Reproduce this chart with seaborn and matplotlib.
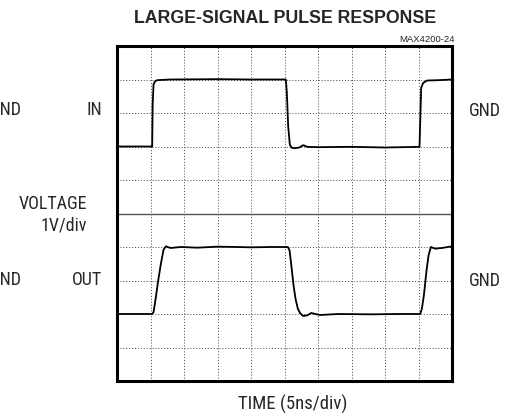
import numpy as np
import pandas as pd
import matplotlib
matplotlib.use("Agg")
import matplotlib.pyplot as plt
import seaborn as sns

sns.set_theme(style="white")
plt.rcParams['font.family'] = ['Roboto Condensed', 'Liberation Sans', 'DejaVu Sans']

# time in ns (5ns/div), voltage in divisions (1V/div), screen centre = 0
in_t = [0, 5.25, 5.32, 5.45, 5.7, 6.0, 8.0, 15.0, 20.0, 25.2, 25.35, 25.55, 25.8,
        26.1, 26.6, 27.2, 27.8, 28.4, 30.0, 35.0, 40.0, 45.15, 45.25, 45.4, 45.7,
        46.3, 48.0, 50.0]
in_v = [2.0, 2.0, 3.2, 3.85, 3.95, 3.98, 4.0, 4.01, 4.0, 4.0, 3.6, 2.6, 2.05,
        1.96, 1.95, 1.97, 2.04, 1.99, 1.98, 1.99, 1.97, 1.99, 2.7, 3.75, 3.9,
        3.97, 3.98, 4.0]

out_t = [0, 5.2, 5.45, 5.8, 6.15, 6.55, 6.95, 7.3, 8.0, 9.5, 12.0, 15.0, 18.0,
         20.0, 23.0, 25.5, 25.75, 26.05, 26.35, 26.65, 27.0, 27.35, 27.8, 28.4,
         29.0, 29.6, 30.3, 33.0, 38.0, 42.0, 45.25, 45.5, 45.8, 46.2, 46.5,
         46.85, 47.5, 48.5, 50.0]
out_v = [-3.0, -3.0, -2.95, -2.5, -2.0, -1.5, -1.08, -0.98, -1.03, -1.0, -1.02,
         -0.99, -1.0, -1.01, -1.0, -1.0, -1.1, -1.6, -2.15, -2.55, -2.85, -2.98,
         -3.06, -3.04, -2.97, -3.0, -3.03, -3.0, -3.01, -3.0, -3.0, -2.85, -2.45,
         -1.7, -1.25, -1.0, -1.05, -1.03, -0.98]

fig = plt.figure(figsize=(5.16, 4.16), dpi=100)
W, H = 516, 416
ax = fig.add_axes([117 / W, 1 - 381 / H, 335 / W, 335 / H])

ax.axhline(0, color='#555555', lw=1.0, zorder=1)
sns.lineplot(x=in_t, y=in_v, estimator=None, sort=False, color='black', lw=1.3, ax=ax)
sns.lineplot(x=out_t, y=out_v, estimator=None, sort=False, color='black', lw=1.3, ax=ax)

ax.set_xlim(0, 50)
ax.set_ylim(-5, 5)
ax.set_xticks(np.arange(0, 51, 5))
ax.set_yticks(np.arange(-5, 6, 1))
ax.set_xticklabels([])
ax.set_yticklabels([])
ax.tick_params(length=0)
ax.grid(True, color='#444444', lw=0.7, linestyle=(0, (1, 2)))
ax.set_xlabel('')
ax.set_ylabel('')
for s in ax.spines.values():
    s.set_color('black')
    s.set_linewidth(2.2)


def label(x, y, s, **kw):
    fig.text(x / W, 1 - y / H, s, va='center', **kw)


label(285, 18.5, 'LARGE-SIGNAL PULSE RESPONSE', ha='center', fontsize=12.8,
      fontweight='bold', family=['Liberation Sans', 'DejaVu Sans'])
label(455, 40, 'MAX4200-24', ha='right', fontsize=6.8, color='#222222',
      family=['Liberation Sans', 'DejaVu Sans'])
label(102, 110, 'IN', ha='right', fontsize=13)
label(22, 110, 'GND', ha='right', fontsize=13)
label(469, 111, 'GND', ha='left', fontsize=13)
label(87, 204, 'VOLTAGE', ha='right', fontsize=13)
label(87, 226, '1V/div', ha='right', fontsize=13)
label(102, 280, 'OUT', ha='right', fontsize=13)
label(22, 280, 'GND', ha='right', fontsize=13)
label(469, 281, 'GND', ha='left', fontsize=13)
label(293, 404, 'TIME (5ns/div)', ha='center', fontsize=13.5)

fig.savefig('out.png', dpi=100)
